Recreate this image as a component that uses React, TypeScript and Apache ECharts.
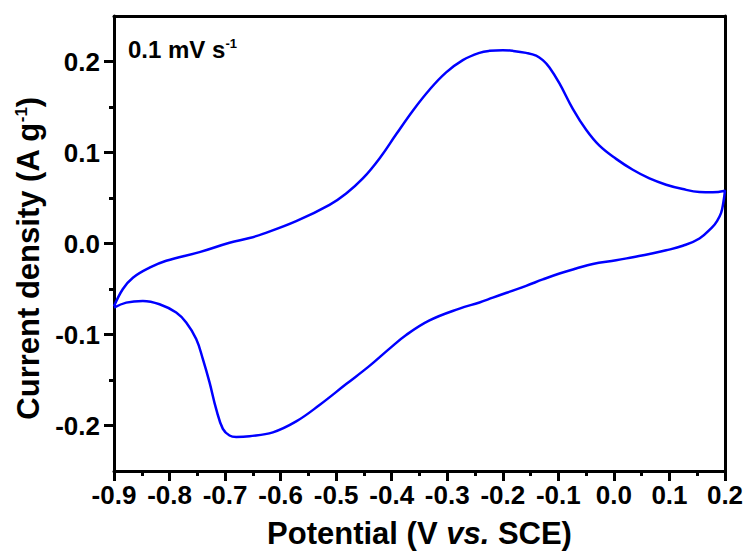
import React, { useEffect, useRef } from "react";
import * as echarts from "echarts";

// Anodic (forward) scan, potential in V vs. SCE, current in A g-1
const forwardPotential = [
  -0.9, -0.884, -0.866, -0.836, -0.806, -0.746, -0.692, -0.656, -0.632, -0.572,
  -0.512, -0.482, -0.452, -0.422, -0.392, -0.362, -0.332, -0.302, -0.272, -0.242,
  -0.224, -0.2, -0.182, -0.158, -0.14, -0.128, -0.116, -0.098, -0.074, -0.05,
  -0.026, 0.004, 0.034, 0.064, 0.094, 0.124, 0.154, 0.178, 0.2,
];
const forwardCurrent = [
  -0.069, -0.05, -0.0376, -0.0266, -0.019, -0.0095, 0.0008, 0.006, 0.0105, 0.0245,
  0.0425, 0.055, 0.0715, 0.0935, 0.12, 0.146, 0.169, 0.188, 0.2015, 0.2095,
  0.2117, 0.2125, 0.2117, 0.2095, 0.2065, 0.2015, 0.1935, 0.176, 0.148, 0.125,
  0.1075, 0.093, 0.081, 0.0715, 0.0646, 0.0598, 0.0566, 0.0562, 0.058,
];
// Cathodic (reverse) scan
const reversePotential = [
  0.197, 0.193, 0.185, 0.178, 0.154, 0.124, 0.094, 0.064, 0.034, 0.004,
  -0.038, -0.068, -0.098, -0.128, -0.158, -0.218, -0.242, -0.278, -0.332, -0.374,
  -0.404, -0.44, -0.482, -0.53, -0.572, -0.614, -0.656, -0.68, -0.692, -0.704,
  -0.716, -0.728, -0.74, -0.752, -0.77, -0.788, -0.818, -0.848, -0.878, -0.9,
];
const reverseCurrent = [
  0.045, 0.0336, 0.024, 0.0185, 0.0055, -0.0025, -0.0075, -0.0115, -0.015, -0.0185,
  -0.0225, -0.0275, -0.033, -0.0395, -0.0465, -0.0595, -0.0648, -0.0715, -0.0845, -0.1005,
  -0.1155, -0.1345, -0.1545, -0.1775, -0.1955, -0.2075, -0.2117, -0.2125, -0.211, -0.2037,
  -0.182, -0.1526, -0.127, -0.105, -0.0869, -0.0759, -0.0668, -0.0632, -0.065, -0.0705,
];

const yMajorTicks = [-0.2, -0.1, 0.0, 0.1, 0.2];
const yMinorTicks = [-0.15, -0.05, 0.05, 0.15];

const FONT = "'Liberation Sans', Arial, sans-serif";

export default function App() {
  const ref = useRef<HTMLDivElement>(null);

  useEffect(() => {
    document.body.style.margin = "0";
    if (!ref.current) return;
    const chart = echarts.init(ref.current, null, { renderer: "svg" });

    const loop: number[][] = [];
    forwardPotential.forEach((v, i) => loop.push([v, forwardCurrent[i]]));
    reversePotential.forEach((v, i) => loop.push([v, reverseCurrent[i]]));

    const labelStyle = {
      color: "#000",
      fontSize: 26,
      fontWeight: "bold" as const,
      fontFamily: FONT,
    };
    const fmt = (v: number) => (Math.abs(v) < 1e-9 ? "0.0" : v.toFixed(1));
    const frameLine = { show: true, onZero: false, lineStyle: { color: "#000", width: 3 } };

    chart.setOption({
      animation: false,
      backgroundColor: "#fff",
      grid: { left: 114, right: 23, top: 16, bottom: 82 },
      xAxis: [
        {
          type: "value",
          min: -0.9,
          max: 0.2,
          interval: 0.1,
          position: "bottom",
          name: "{t|Potential (V }{i|vs.}{t| SCE)}",
          nameLocation: "middle",
          nameGap: 47,
          nameTextStyle: {
            rich: {
              t: { fontSize: 31, fontWeight: "bold", fontFamily: FONT, color: "#000" },
              i: { fontSize: 31, fontWeight: "bold", fontStyle: "italic", fontFamily: FONT, color: "#000" },
            },
          },
          axisLine: frameLine,
          axisTick: { show: true, inside: false, length: 10, lineStyle: { color: "#000", width: 3 } },
          minorTick: { show: true, splitNumber: 2, length: 5, lineStyle: { color: "#000", width: 3 } },
          axisLabel: { ...labelStyle, margin: 11, formatter: fmt },
          splitLine: { show: false },
          minorSplitLine: { show: false },
        },
        {
          type: "value",
          min: -0.9,
          max: 0.2,
          position: "top",
          axisLine: frameLine,
          axisTick: { show: false },
          axisLabel: { show: false },
          splitLine: { show: false },
        },
      ],
      yAxis: [
        {
          type: "value",
          min: -0.25,
          max: 0.25,
          interval: 0.05,
          position: "left",
          name: "{t|Current density (A g}{s|-1}{t|)}",
          nameLocation: "middle",
          nameRotate: 90,
          nameGap: 60,
          nameTextStyle: {
            padding: [0, 30, 0, 0],
            rich: {
              t: { fontSize: 31, fontWeight: "bold", fontFamily: FONT, color: "#000" },
              s: { fontSize: 17, fontWeight: "bold", fontFamily: FONT, color: "#000", verticalAlign: "top" },
            },
          },
          axisLine: frameLine,
          axisTick: {
            show: true,
            inside: false,
            length: 10,
            customValues: yMajorTicks,
            lineStyle: { color: "#000", width: 3 },
          },
          axisLabel: { ...labelStyle, margin: 14, customValues: yMajorTicks, formatter: fmt },
          splitLine: { show: false },
        },
        {
          type: "value",
          min: -0.25,
          max: 0.25,
          interval: 0.05,
          position: "left",
          axisLine: { show: false, onZero: false },
          axisTick: {
            show: true,
            inside: false,
            length: 5,
            customValues: yMinorTicks,
            lineStyle: { color: "#000", width: 3 },
          },
          axisLabel: { show: false },
          splitLine: { show: false },
        },
        {
          type: "value",
          min: -0.25,
          max: 0.25,
          position: "right",
          axisLine: frameLine,
          axisTick: { show: false },
          axisLabel: { show: false },
          splitLine: { show: false },
        },
      ],
      graphic: [
        {
          type: "text",
          left: 128,
          top: 37,
          style: {
            text: "{a|0.1 mV s}{s|-1}",
            rich: {
              a: { fontSize: 24, fontWeight: "bold", fontFamily: FONT, fill: "#000" },
              s: { fontSize: 13, fontWeight: "bold", fontFamily: FONT, fill: "#000", verticalAlign: "top" },
            },
          },
        },
      ],
      series: [
        {
          type: "line",
          xAxisIndex: 0,
          yAxisIndex: 0,
          data: loop,
          showSymbol: false,
          smooth: 0.4,
          clip: true,
          lineStyle: { color: "#0000ff", width: 2.5 },
        },
      ],
    });

    return () => chart.dispose();
  }, []);

  return <div ref={ref} style={{ width: 748, height: 554 }} />;
}
